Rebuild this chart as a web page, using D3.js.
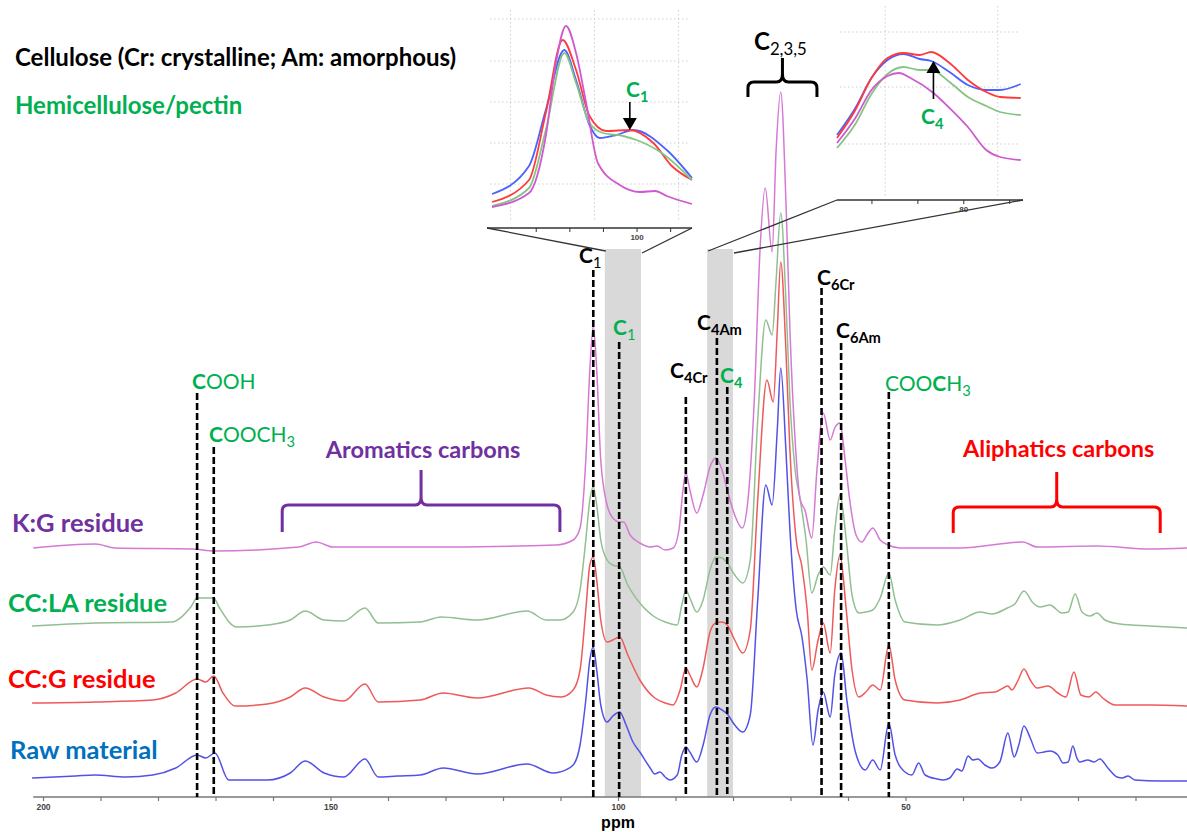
<!DOCTYPE html>
<html>
<head>
<meta charset="utf-8">
<script src="https://cdn.jsdelivr.net/npm/d3@7"></script>
<style>
  body { margin: 0; background: #fff; }
  svg { display: block; font-family: Lato, "Open Sans", sans-serif; }
</style>
</head>
<body>
<svg id="chart" width="1187" height="832"></svg>
<script>
// ---- data: [ppm, intensity (a.u.)] ----
const rawMaterial = [[201.9,2],[194.3,4],[191.0,5],[185.6,3],[180.9,5],[176.9,12],[173.2,25],[171.7,22],[170.1,27],[167.7,0],[161.0,0],[157.0,7],[154.4,19],[151.1,7],[147.7,3],[144.0,21],[141.7,3],[138.4,4],[134.4,5],[130.4,12],[124.5,6],[115.8,16],[111.3,7],[110.1,8],[107.8,15],[106.6,35],[105.6,80],[104.9,120],[104.3,133],[103.7,110],[103.0,75],[101.9,58],[100.9,64],[99.7,68],[98.6,55],[97.4,38],[96.2,28],[94.4,12],[93.6,6],[92.7,8],[91.8,3],[91.0,0],[89.7,5],[88.9,25],[88.2,33],[87.5,28],[86.3,18],[85.2,35],[84.0,65],[83.0,73],[81.9,70],[81.0,66],[79.7,55],[78.3,48],[77.0,65],[75.7,180],[74.3,295],[73.2,275],[72.3,350],[71.7,412],[70.8,330],[70.1,250],[69.0,170],[68.0,143],[67.1,100],[66.1,35],[65.2,70],[64.3,88],[63.1,63],[62.3,105],[61.2,127],[60.2,80],[58.8,30],[57.0,10],[55.7,20],[54.4,10],[52.9,57],[51.8,25],[50.1,8],[48.9,5],[47.7,17],[46.6,5],[44.5,1],[43.5,0],[42.3,2],[41.0,11],[40.2,9],[39.1,24],[38.3,20],[37.4,21],[36.2,15],[35.0,12],[33.6,18],[32.2,47],[31.1,23],[30.3,35],[29.4,54],[28.3,42],[27.1,27],[25.9,28],[24.9,29],[23.5,25],[22.6,17],[21.7,18],[20.9,34],[20.2,22],[19.7,18],[18.3,20],[17.2,18],[16.2,21],[14.8,12],[13.2,3],[12.3,2],[11.3,4],[10.1,0],[5.7,-1],[1.0,-1]];

const ccgResidue = [[201.9,2],[191.0,3],[180.9,5],[176.9,12],[173.2,26],[171.7,23],[170.3,29],[168.7,12],[166.6,-1],[161.0,1],[157.0,8],[154.4,17],[151.1,8],[147.7,4],[144.0,21],[141.7,3],[134.4,5],[130.4,12],[124.5,7],[115.5,17],[112.5,10],[109.9,8],[107.8,15],[106.6,35],[105.6,95],[104.9,140],[104.3,148],[103.7,125],[103.0,85],[101.9,63],[100.9,65],[99.7,68],[98.3,50],[96.2,25],[93.6,7],[91.8,2],[90.4,0],[89.2,15],[88.2,37],[87.5,30],[86.3,18],[85.2,37],[84.0,73],[83.0,82],[81.9,83],[81.0,80],[79.7,65],[78.3,52],[77.0,75],[75.7,205],[74.1,325],[73.0,303],[72.3,375],[71.7,443],[70.8,355],[70.1,255],[69.0,165],[68.0,138],[67.1,95],[66.3,35],[65.2,65],[64.3,82],[63.1,52],[62.3,115],[61.4,150],[60.3,95],[59.3,35],[58.1,8],[56.9,13],[55.7,20],[54.4,15],[52.9,60],[51.8,25],[50.1,5],[44.5,2],[40.5,5],[37.0,12],[34.4,13],[33.0,17],[32.2,19],[31.5,15],[30.4,25],[29.4,36],[28.3,25],[27.1,17],[25.2,19],[23.5,12],[22.1,8],[20.7,33],[19.5,10],[18.1,8],[16.9,13],[15.7,7],[13.6,0],[7.5,0],[1.0,-1]];

const cclaResidue = [[201.9,1],[191.0,4],[177.6,5],[174.3,20],[173.2,29],[170.3,29],[169.4,20],[166.3,0],[161.0,2],[157.0,7],[154.4,16],[151.1,7],[147.7,6],[144.0,19],[141.7,4],[134.4,5],[130.8,10],[124.5,7],[115.8,16],[112.5,7],[110.1,7],[107.8,15],[106.6,37],[105.6,87],[104.9,127],[104.3,140],[103.7,122],[103.0,87],[101.9,67],[100.9,62],[99.7,60],[98.3,42],[96.2,24],[93.6,10],[91.8,5],[89.7,2],[88.9,22],[88.2,37],[87.5,29],[86.3,15],[85.2,27],[84.0,57],[83.0,70],[81.9,69],[81.0,64],[79.7,52],[78.3,44],[77.0,67],[75.7,207],[74.3,307],[73.2,292],[72.5,347],[71.7,414],[70.8,327],[70.1,227],[69.2,157],[68.3,127],[67.3,87],[66.3,34],[65.2,52],[64.3,60],[63.1,52],[62.3,97],[61.4,132],[60.3,87],[59.3,32],[58.1,14],[56.9,15],[55.7,17],[54.4,29],[52.9,54],[51.8,27],[50.1,5],[44.5,2],[40.5,7],[37.0,15],[35.0,13],[32.3,19],[31.0,23],[29.4,36],[27.8,24],[26.6,20],[24.9,22],[22.8,14],[21.7,15],[20.5,33],[19.3,15],[17.9,11],[16.7,14],[15.3,7],[12.7,3],[7.5,1],[1.0,-1]];

const kgResidue = [[201.7,0],[190.8,4],[187.5,0],[174.1,-1],[170.1,-3],[155.5,1],[152.5,6],[149.6,1],[134.3,1],[110.8,3],[107.8,8],[106.6,20],[105.6,88],[104.9,178],[104.3,222],[103.7,178],[103.0,88],[101.9,43],[100.9,30],[99.7,26],[99.0,26],[97.9,13],[96.2,5],[94.4,1],[93.2,2],[91.8,-2],[90.4,0],[89.4,18],[88.7,58],[88.2,75],[87.5,58],[86.3,35],[85.2,53],[84.0,81],[83.0,90],[81.9,78],[81.0,58],[79.7,33],[78.4,20],[77.4,48],[76.3,148],[75.3,298],[74.4,360],[73.2,296],[72.5,398],[71.7,456],[70.8,348],[70.1,218],[69.2,108],[68.3,48],[67.5,38],[66.3,10],[65.4,78],[64.3,135],[63.1,108],[62.3,120],[61.4,125],[60.5,88],[59.7,48],[58.6,13],[57.6,6],[56.5,15],[55.7,20],[54.4,8],[53.0,3],[51.0,0],[40.5,0],[29.6,6],[27.1,1],[16.7,2],[7.5,-1],[1.0,0]];

// zoomed insets (C1 region and C4 region)
const insetC1Raw  = [[108.6,34],[106.4,62],[105.4,118],[104.3,178],[103.6,148],[102.8,103],[102.2,90],[101.2,93],[100.2,98],[98.2,78],[96.7,50]];
const insetC1CCG  = [[108.6,26],[106.4,48],[105.4,115],[104.4,188],[103.6,158],[102.8,112],[101.8,97],[100.4,98],[99.0,85],[97.9,62],[96.7,48]];
const insetC1CCLA = [[108.6,22],[106.4,40],[105.4,98],[104.3,175],[103.6,145],[102.8,105],[102.0,95],[100.8,92],[100.0,88],[98.5,75],[96.7,48]];
const insetC1KG   = [[108.6,21],[106.4,35],[105.4,92],[104.8,165],[104.2,202],[103.6,175],[103.0,125],[102.3,65],[101.0,43],[99.8,36],[98.9,37],[98.2,32],[96.7,24]];

const insetC4Raw  = [[85.5,65],[84.7,92],[84.0,122],[83.3,140],[82.6,146],[81.9,141],[81.4,139],[80.6,128],[79.8,115],[79.0,110],[78.4,110],[77.5,116]];
const insetC4CCG  = [[85.5,62],[84.7,90],[84.0,122],[83.3,142],[82.6,147],[81.9,145],[81.4,148],[80.6,137],[79.8,120],[79.0,108],[78.4,103],[77.5,102]];
const insetC4CCLA = [[85.5,52],[84.7,76],[84.0,106],[83.3,126],[82.6,133],[81.9,130],[81.4,130],[80.6,118],[79.8,103],[79.0,94],[78.4,88],[77.5,85]];
const insetC4KG   = [[85.5,57],[84.7,82],[84.0,110],[83.3,124],[82.8,127],[82.3,122],[81.3,107],[80.6,92],[79.8,73],[79.0,50],[78.4,43],[77.5,40]];

const seriesNames = ["Raw material", "CC:G residue", "CC:LA residue", "K:G residue"];
const ppmTicks = d3.range(200, 0, -10);
const ppmTickLabels = [200, 150, 100, 50];
const inset1Ticks = [106, 104, 102, 100, 98];
const inset2Ticks = [84, 82, 80, 78];

// shaded regions shown in the insets
const zoomBands = [[102.3, 96.0], [84.5, 80.0]];

// assignments: dashed marker lines
const peakLines = [
  {id: "C1",    ppm: 104.3, parts: [["C", 1], ["1", 0, 1]],                     color: "#000"},
  {id: "C1h",   ppm: 99.8,  parts: [["C", 1], ["1", 0, 1]],                     color: "#00b050"},
  {id: "C4Cr",  ppm: 88.2,  parts: [["C", 1], ["4Cr", 1, 1]],                   color: "#000"},
  {id: "C4Am",  ppm: 82.8,  parts: [["C", 1], ["4Am", 1, 1]],                   color: "#000"},
  {id: "C4h",   ppm: 81.0,  parts: [["C", 1], ["4", 1, 1]],                     color: "#00b050"},
  {id: "C6Cr",  ppm: 64.6,  parts: [["C", 1], ["6Cr", 1, 1]],                   color: "#000"},
  {id: "C6Am",  ppm: 61.2,  parts: [["C", 1], ["6Am", 1, 1]],                   color: "#000"},
  {id: "OMe",   ppm: 52.9,  parts: [["COO", 0], ["C", 1], ["H", 0], ["3", 0, 1]], color: "#00b050"},
  {id: "COOH",  ppm: 173.2, parts: [["C", 1], ["OOH", 0]],                      color: "#00b050"},
  {id: "COOMe", ppm: 170.3, parts: [["C", 1], ["OOCH", 0], ["3", 0, 1]],          color: "#00b050"}
];

const regionBraces = [
  {label: "Aromatics carbons",  from: 158.4, to: 110.1, color: "#7030a0"},
  {label: "Aliphatics carbons", from: 41.7,  to: 5.7,   color: "#ff0000"},
  {label: null,                 from: 77.4,  to: 65.4,  color: "#000"}
];

// ---- layout ----
const svg = d3.select("#chart");
const axisY = 797;
const baseY = [780, 705, 627, 548];
const lineColors = ["#5252e6", "#ee5a5a", "#92bf92", "#d47ad4"];
const insetColors = ["#4a62ff", "#ff3a3a", "#86c486", "#cf5acf"];
const labelColors = ["#0070c0", "#ff0000", "#00b050", "#7030a0"];
const labelPos = [[10, 759], [8, 688], [8, 612], [12, 532]];
const markLayout = {
  C1: {top: 270, tx: 579, ty: 263}, C1h: {top: 342, tx: 613, ty: 335},
  C4Cr: {top: 397, tx: 670, ty: 378}, C4Am: {top: 338, tx: 697, ty: 330},
  C4h: {top: 387, tx: 720, ty: 383}, C6Cr: {top: 288, tx: 817, ty: 285},
  C6Am: {top: 343, tx: 836, ty: 338}, OMe: {top: 392, tx: 885, ty: 391},
  COOH: {top: 393, tx: 192, ty: 389}, COOMe: {top: 447, tx: 209, ty: 442}
};
const braceLayout = [
  {bar: 505, end: 532, tip: 470, ty: 458},
  {bar: 507, end: 533, tip: 472, ty: 457},
  {bar: 82, end: 97, tip: 58, ty: null}
];

const x = d3.scaleLinear().domain([200, 0]).range([43, 1193]);
const yI = d3.scaleLinear().domain([0, 500]).range([0, 500]);

// grey bands
svg.append("g").selectAll("rect").data(zoomBands).join("rect")
  .attr("x", d => x(d[0])).attr("width", d => x(d[1]) - x(d[0]))
  .attr("y", 249).attr("height", axisY - 249)
  .attr("fill", "#d9d9d9");

// spectra
const spectra = [rawMaterial, ccgResidue, cclaResidue, kgResidue];
spectra.forEach((data, i) => {
  const line = d3.line()
    .x(d => x(d[0]))
    .y(d => baseY[i] - yI(d[1]))
    .curve(d3.curveMonotoneX);
  svg.append("path").datum(data)
    .attr("d", line).attr("fill", "none")
    .attr("stroke", lineColors[i]).attr("stroke-width", 1.5);
});

// axis
const axisG = svg.append("g").attr("transform", `translate(0,${axisY})`)
  .call(d3.axisBottom(x).tickValues(ppmTicks).tickSize(4).tickPadding(3)
    .tickFormat(d => ppmTickLabels.includes(d) ? d : ""));
axisG.select(".domain").remove();
axisG.selectAll(".tick line").attr("stroke", "#777").attr("stroke-width", 1.2);
axisG.selectAll(".tick text").attr("font-size", 8.5).attr("font-weight", 700)
  .attr("fill", "#444").attr("font-family", "Arial, sans-serif");
axisG.append("line").attr("x1", x(201.7)).attr("x2", x(1.0))
  .attr("stroke", "#777").attr("stroke-width", 1.5);
svg.append("text").attr("x", x(100)).attr("y", 828).attr("text-anchor", "middle")
  .attr("font-size", 16).attr("font-weight", 700).attr("font-family", "Arial, sans-serif")
  .text("ppm");

// chemical label helper
function chemText(g, parts, tx, ty, color, size) {
  const t = g.append("text").attr("x", tx).attr("y", ty)
    .attr("fill", color).attr("font-size", size);
  let shifted = false;
  parts.forEach(p => {
    const s = t.append("tspan").text(p[0]).attr("font-weight", p[1] ? 700 : 400);
    if (p[2]) {
      s.attr("font-size", size * 0.7);
      if (!shifted) { s.attr("dy", size * 0.22); shifted = true; }
    } else if (shifted) {
      s.attr("dy", -size * 0.22); shifted = false;
    }
  });
  return t;
}

// dashed marker lines + labels
const marks = svg.append("g");
peakLines.forEach(p => {
  const L = markLayout[p.id];
  marks.append("line").attr("x1", x(p.ppm)).attr("x2", x(p.ppm))
    .attr("y1", L.top).attr("y2", axisY)
    .attr("stroke", "#000").attr("stroke-width", 2.6).attr("stroke-dasharray", "7,3");
  chemText(marks, p.parts, L.tx, L.ty, p.color, 21);
});

// braces
regionBraces.forEach((b, i) => {
  const L = braceLayout[i];
  const x0 = x(b.from), x1 = x(b.to), xm = (x0 + x1) / 2, r = 6;
  const path = `M${x0},${L.end} L${x0},${L.bar + r} Q${x0},${L.bar} ${x0 + r},${L.bar}` +
    ` L${xm - 6},${L.bar} Q${xm},${L.bar} ${xm},${L.bar - 8} L${xm},${L.tip}` +
    ` M${xm},${L.bar - 8} Q${xm},${L.bar} ${xm + 6},${L.bar}` +
    ` L${x1 - r},${L.bar} Q${x1},${L.bar} ${x1},${L.bar + r} L${x1},${L.end}`;
  svg.append("path").attr("d", path).attr("fill", "none")
    .attr("stroke", b.color).attr("stroke-width", 3);
  if (b.label) {
    svg.append("text").attr("x", xm + 2).attr("y", L.ty).attr("text-anchor", "middle")
      .attr("fill", b.color).attr("font-size", 23.5).attr("font-weight", 700).text(b.label);
  }
});
chemText(svg, [["C", 1], ["2,3,5", 0, 1]], 754, 50, "#000", 24);

// series labels
seriesNames.forEach((n, i) => {
  svg.append("text").attr("x", labelPos[i][0]).attr("y", labelPos[i][1])
    .attr("fill", labelColors[i]).attr("font-size", 25.5).attr("font-weight", 700).text(n);
});

// header
svg.append("text").attr("x", 15).attr("y", 66).attr("font-size", 24).attr("font-weight", 700)
  .attr("fill", "#000").text("Cellulose (Cr: crystalline; Am: amorphous)");
svg.append("text").attr("x", 15).attr("y", 114).attr("font-size", 24).attr("font-weight", 700)
  .attr("fill", "#00b050").text("Hemicellulose/pectin");

// ---- insets ----
function drawInset(cfg) {
  const g = svg.append("g");
  const ix = d3.scaleLinear().domain(cfg.ppm).range(cfg.xr);
  const iy = d3.scaleLinear().domain([0, cfg.imax]).range([cfg.axis, cfg.axis - cfg.imax]);
  // dotted grid
  cfg.gridX.forEach(v => g.append("line").attr("x1", ix(v)).attr("x2", ix(v))
    .attr("y1", cfg.gridTop).attr("y2", cfg.gridBottom)
    .attr("stroke", "#cfcfcf").attr("stroke-dasharray", "1.5,2.5"));
  cfg.gridY.forEach(v => g.append("line").attr("x1", cfg.xr[0] + 3).attr("x2", cfg.xr[1] - 3)
    .attr("y1", iy(v)).attr("y2", iy(v))
    .attr("stroke", "#cfcfcf").attr("stroke-dasharray", "1.5,2.5"));
  cfg.series.forEach((data, i) => {
    g.append("path").datum(data)
      .attr("d", d3.line().x(d => ix(d[0])).y(d => iy(d[1])).curve(d3.curveMonotoneX))
      .attr("fill", "none").attr("stroke", insetColors[i]).attr("stroke-width", 1.8);
  });
  // axis
  const ax = g.append("g").attr("transform", `translate(0,${cfg.axis})`)
    .call(d3.axisBottom(ix).tickValues(cfg.ticks).tickSize(4).tickPadding(2)
      .tickFormat(d => d === cfg.label ? d : ""));
  ax.select(".domain").remove();
  ax.selectAll(".tick line").attr("stroke", "#333");
  ax.selectAll(".tick text").attr("font-size", 8).attr("font-weight", 700)
    .attr("fill", "#444").attr("font-family", "Arial, sans-serif");
  g.append("line").attr("x1", cfg.xr[0]).attr("x2", cfg.xr[1])
    .attr("y1", cfg.axis).attr("y2", cfg.axis).attr("stroke", "#333").attr("stroke-width", 1.3);
  // guide lines to the grey band
  g.append("line").attr("x1", cfg.xr[0]).attr("y1", cfg.axis)
    .attr("x2", x(cfg.band[0]) + 1).attr("y2", 251).attr("stroke", "#333").attr("stroke-width", 1.3);
  g.append("line").attr("x1", cfg.xr[1]).attr("y1", cfg.axis)
    .attr("x2", x(cfg.band[1]) + 1).attr("y2", 253).attr("stroke", "#333").attr("stroke-width", 1.3);
  // arrow
  const ax0 = ix(cfg.arrow.ppm), tipY = iy(cfg.arrow.at);
  const dir = cfg.arrow.up ? -1 : 1;
  const headBase = tipY - dir * 12;
  g.append("line").attr("x1", ax0).attr("x2", ax0)
    .attr("y1", headBase).attr("y2", headBase - dir * cfg.arrow.len)
    .attr("stroke", "#000").attr("stroke-width", 1.6);
  g.append("path")
    .attr("d", `M${ax0 - 7},${headBase} L${ax0 + 7},${headBase} L${ax0},${tipY} Z`)
    .attr("fill", "#000");
  chemText(g, [["C", 1], [cfg.arrow.sub, 1, 1]], cfg.arrow.tx, cfg.arrow.ty, "#00b050", 21);
}

drawInset({
  ppm: [108.9, 96.7], xr: [487, 692], axis: 228, imax: 215,
  gridX: [107.5, 102.5, 97.5], gridY: [44, 85, 126, 167, 209], gridTop: 10, gridBottom: 222,
  series: [insetC1Raw, insetC1CCG, insetC1CCLA, insetC1KG],
  ticks: inset1Ticks, label: 100, band: zoomBands[0],
  arrow: {ppm: 100.4, at: 98, up: false, len: 16, sub: "1", tx: 626, ty: 97}
});
drawInset({
  ppm: [85.5, 77.4], xr: [837, 1023], axis: 200, imax: 195,
  gridX: [83.4, 78.5], gridY: [56, 113, 168], gridTop: 6, gridBottom: 196,
  series: [insetC4Raw, insetC4CCG, insetC4CCLA, insetC4KG],
  ticks: inset2Ticks, label: 80, band: zoomBands[1],
  arrow: {ppm: 81.3, at: 139, up: true, len: 26, sub: "4", tx: 921, ty: 124}
});
</script>
</body>
</html>
